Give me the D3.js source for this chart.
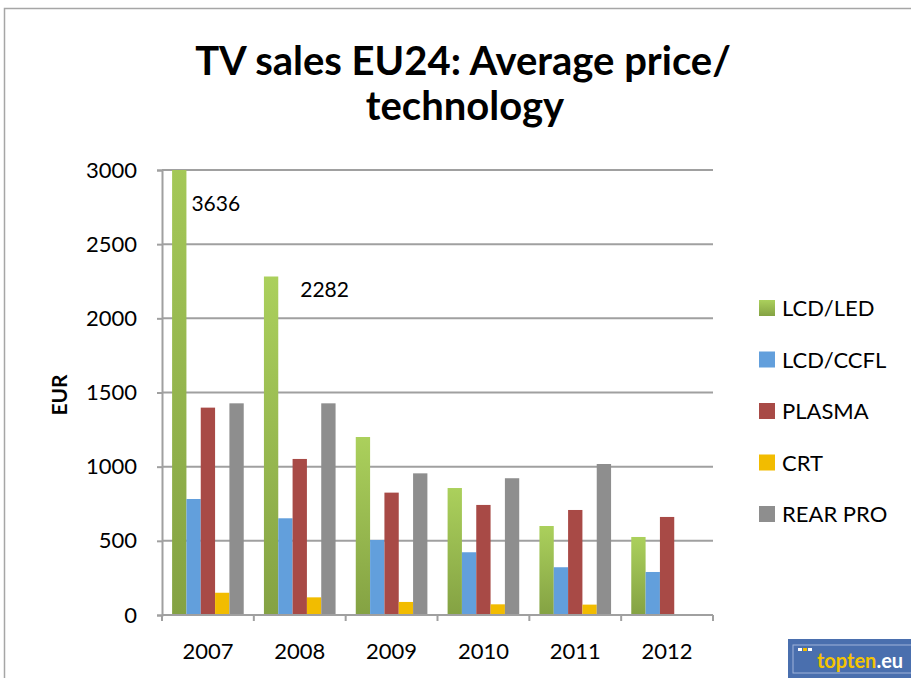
<!DOCTYPE html>
<html>
<head>
<meta charset="utf-8">
<script src="https://cdn.jsdelivr.net/npm/d3@7"></script>
<style>
  body { margin: 0; background: #fff; }
  text { font-family: Lato, "Open Sans", sans-serif; fill: #000; }
</style>
</head>
<body>
<svg></svg>
<script>
var years = ['2007', '2008', '2009', '2010', '2011', '2012'];
var series = ['LCD/LED', 'LCD/CCFL', 'PLASMA', 'CRT', 'REAR PRO'];
var lcdLed  = [3636, 2282, 1200, 856, 600, 526];
var lcdCcfl = [782, 652, 506, 423, 322, 290];
var plasma  = [1398, 1052, 825, 742, 708, 661];
var crt     = [150, 119, 88, 72, 70, null];
var rearPro = [1427, 1427, 955, 922, 1018, null];
var yTicks  = [0, 500, 1000, 1500, 2000, 2500, 3000];
var colors  = ['url(#ledGrad)', '#629fdc', '#a84a46', '#f2bc00', '#8e8e8e'];

var values = [lcdLed, lcdCcfl, plasma, crt, rearPro];

var width = 911, height = 678;
var svg = d3.select('svg').attr('width', width).attr('height', height);

var defs = svg.append('defs');
var grad = defs.append('linearGradient').attr('id', 'ledGrad')
  .attr('x1', 0).attr('y1', 0).attr('x2', 0).attr('y2', 1);
grad.append('stop').attr('offset', '0%').attr('stop-color', '#abd05c');
grad.append('stop').attr('offset', '100%').attr('stop-color', '#84a243');

// outer chart border
svg.append('path')
  .attr('d', 'M4.5,' + height + 'V8.5H' + width)
  .attr('fill', 'none').attr('stroke', '#a6a6a6').attr('stroke-width', 1.5);

var margin = {top: 170, left: 162},
  chartWidth = 713 - 162,
  chartHeight = 615 - 170,
  g = svg.append('g').attr('transform', 'translate(' + margin.left + ',' + margin.top + ')');

var x = d3.scaleBand().domain(years).range([0, chartWidth]).paddingInner(0.22).paddingOuter(0.11);
var x1 = d3.scaleBand().domain(series).range([0, x.bandwidth()]);
var y = d3.scaleLinear().domain([0, 3000]).range([chartHeight, 0]);

// gridlines
g.selectAll('line.grid').data(yTicks.slice(1)).enter().append('line')
  .attr('class', 'grid')
  .attr('x1', 0).attr('x2', chartWidth)
  .attr('y1', function(d) { return y(d); }).attr('y2', function(d) { return y(d); })
  .attr('stroke', '#a0a0a0').attr('stroke-width', 2);

defs.append('clipPath').attr('id', 'plotClip')
  .append('rect').attr('x', 0).attr('y', 0).attr('width', chartWidth).attr('height', chartHeight);

var bars = g.append('g').attr('clip-path', 'url(#plotClip)');
var rows = [];
years.forEach(function(yr, i) {
  series.forEach(function(s, j) {
    if (values[j][i] != null) rows.push({year: yr, s: s, j: j, v: values[j][i]});
  });
});

bars.selectAll('rect').data(rows).enter().append('rect')
  .attr('x', function(d) { return x(d.year) + x1(d.s); })
  .attr('width', x1.bandwidth())
  .attr('y', function(d) { return y(d.v); })
  .attr('height', function(d) { return chartHeight - y(d.v); })
  .attr('fill', function(d) { return colors[d.j]; });

// value labels for tall LED bars
var labelled = [0, 1];
g.selectAll('text.vlab').data(labelled).enter().append('text')
  .attr('class', 'vlab')
  .attr('x', function(i) { return x(years[i]) + x1.bandwidth() + (i === 0 ? 5 : 22); })
  .attr('y', function(i) { return i === 0 ? 41 : 127; })
  .attr('font-size', 21)
  .text(function(i) { return lcdLed[i]; });

// axes
var yAxis = g.append('g')
  .call(d3.axisLeft(y).tickValues(yTicks).tickFormat(d3.format('d')).tickSize(5).tickPadding(20));
yAxis.select('.domain').attr('stroke', '#a0a0a0').attr('stroke-width', 2);
yAxis.selectAll('.tick line').attr('stroke', '#a0a0a0').attr('stroke-width', 2);
yAxis.selectAll('.tick text').attr('font-size', 22).attr('font-family', 'Lato, sans-serif');

var xAxis = g.append('g').attr('transform', 'translate(0,' + chartHeight + ')')
  .call(d3.axisBottom(x).tickSize(0).tickPadding(28));
xAxis.select('.domain').remove();
xAxis.selectAll('.tick text').attr('font-size', 22).attr('font-family', 'Lato, sans-serif');
xAxis.append('line').attr('x1', 0).attr('x2', chartWidth)
  .attr('stroke', '#a0a0a0').attr('stroke-width', 2);
xAxis.selectAll('line.ctick').data(years.concat(['end'])).enter().append('line')
  .attr('class', 'ctick')
  .attr('x1', function(d, i) { return i * x.step(); })
  .attr('x2', function(d, i) { return i * x.step(); })
  .attr('y1', 0).attr('y2', 6)
  .attr('stroke', '#a0a0a0').attr('stroke-width', 2);

// axis title
svg.append('text')
  .attr('transform', 'translate(67,395) rotate(-90)')
  .attr('text-anchor', 'middle')
  .attr('font-size', 21).attr('font-weight', 'bold')
  .text('EUR');

// chart title
var title = svg.append('text').attr('text-anchor', 'middle')
  .attr('font-size', 40).attr('font-weight', 'bold');
title.append('tspan').attr('x', 463).attr('y', 75).text('TV sales EU24: Average price/');
title.append('tspan').attr('x', 465).attr('y', 120).text('technology');

// legend
var legend = svg.append('g').attr('transform', 'translate(759,308)');
var items = legend.selectAll('g').data(series).enter().append('g')
  .attr('transform', function(d, i) { return 'translate(0,' + (i * 51.5) + ')'; });
items.append('rect').attr('x', 0).attr('y', -8).attr('width', 16).attr('height', 16)
  .attr('fill', function(d, i) { return colors[i]; });
items.append('text').attr('x', 23).attr('y', 8).attr('font-size', 22)
  .text(function(d) { return d; });

// logo
var logo = svg.append('g').attr('transform', 'translate(788,639)');
logo.append('rect').attr('width', 130).attr('height', 40).attr('fill', '#4a6fae');
logo.append('rect').attr('x', 5).attr('y', 6).attr('width', 130).attr('height', 28)
  .attr('fill', 'none').attr('stroke', '#9fb4da').attr('stroke-width', 1);
[0, 1, 2].forEach(function(i) {
  logo.append('rect').attr('x', 10 + i * 5).attr('y', 9).attr('width', 4).attr('height', 3)
    .attr('fill', i === 1 ? '#f2bc00' : '#fff');
});
var lt = logo.append('text').attr('x', 29).attr('y', 29).attr('font-size', 20).attr('font-weight', 'bold');
lt.append('tspan').attr('fill', '#f5c400').text('topten');
lt.append('tspan').attr('fill', '#fff').text('.eu');
</script>
</body>
</html>
